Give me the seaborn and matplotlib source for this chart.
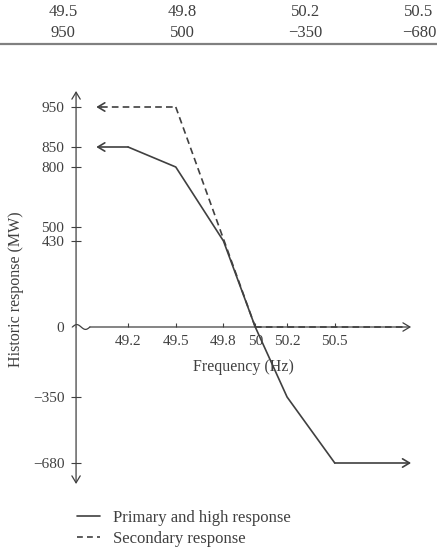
import numpy as np
import pandas as pd
import matplotlib
matplotlib.use('Agg')
import matplotlib.pyplot as plt
from matplotlib.lines import Line2D
import seaborn as sns

# table fragment at the top of the page
table_freq = ['49.5', '49.8', '50.2', '50.5']
table_resp = ['950', '500', '\u2212350', '\u2212680']

# primary and high response
primary_freq = [49.2, 49.5, 49.8, 50.0, 50.2, 50.5]
primary_resp = [850, 800, 430, 0, -350, -680]
# secondary response
secondary_freq = [49.5, 50.0]
secondary_resp = [950, 0]

xticks = [49.2, 49.5, 49.8, 50.0, 50.2, 50.5]
xticklabels = ['49.2', '49.5', '49.8', '50', '50.2', '50.5']
yticks = [950, 850, 800, 500, 430, 0, -350, -680]
yticklabels = ['950', '850', '800', '500', '430', '0', '\u2212350', '\u2212680']

INK = '#404040'

sns.set_style('white')
plt.rcParams['font.family'] = ['Liberation Serif', 'DejaVu Serif']
plt.rcParams['text.color'] = INK
plt.rcParams['axes.labelcolor'] = INK
plt.rcParams['xtick.color'] = INK
plt.rcParams['ytick.color'] = INK


# schematic y axis: values above 800 MW are drawn at twice the scale
def fwd(v):
    return np.interp(v, [-5000, 800, 5000], [-5000, 800, 9200])


def inv(t):
    return np.interp(t, [-5000, 800, 9200], [-5000, 800, 5000])


W, H = 437, 549
fig = plt.figure(figsize=(W / 100, H / 100), dpi=100)
ax = fig.add_axes([60 / W, 1 - 490 / H, 360 / W, 405 / H])
ax.set_yscale('function', functions=(fwd, inv))

df = pd.concat([
    pd.DataFrame({'freq': primary_freq, 'resp': primary_resp,
                  'series': 'Primary and high response'}),
    pd.DataFrame({'freq': secondary_freq, 'resp': secondary_resp,
                  'series': 'Secondary response'}),
])
sns.lineplot(data=df, x='freq', y='resp', style='series', sort=False,
             estimator=None, color=INK, linewidth=1.2,
             dashes={'Primary and high response': '',
                     'Secondary response': (4, 2.5)},
             legend=False, ax=ax)

x0 = 48.873
xl, xr = 49.0, 50.98
ax.set_xlim(48.772, 51.036)
ax.set_ylim(-815, 1005)

# axis lines with arrow heads
ap = dict(arrowstyle='->,head_length=0.5,head_width=0.3', color=INK, lw=0.9,
          shrinkA=0, shrinkB=0)
ax.annotate('', xy=(x0, 990), xytext=(x0, 0), arrowprops=ap)
ax.annotate('', xy=(x0, -785), xytext=(x0, 0), arrowprops=ap)
ax.annotate('', xy=(xr, 0), xytext=(48.96, 0), arrowprops=ap)
# axis break squiggle near the origin
sx = np.linspace(48.85, 48.96, 40)
ax.plot(sx, 12 * np.sin((sx - 48.85) / 0.11 * 2 * np.pi), color=INK, lw=0.9)
ax.plot([48.85, 48.96], [0, 0], color='white', lw=2, zorder=1.5)

# line extensions with arrow heads
lp = dict(arrowstyle='->,head_length=0.5,head_width=0.3', color=INK, lw=1.2,
          shrinkA=0, shrinkB=0)
ax.annotate('', xy=(xl, primary_resp[0]), xytext=(primary_freq[0], primary_resp[0]), arrowprops=lp)
ax.annotate('', xy=(xr, primary_resp[-1]), xytext=(primary_freq[-1], primary_resp[-1]), arrowprops=lp)
ax.plot([xl + 0.03, secondary_freq[0]], [secondary_resp[0]] * 2, color=INK, lw=1.2, dashes=(4, 2.5))
ax.annotate('', xy=(xl, secondary_resp[0]), xytext=(xl + 0.03, secondary_resp[0]), arrowprops=lp)
ax.plot([secondary_freq[-1], xr - 0.03], [secondary_resp[-1]] * 2, color=INK, lw=1.2, dashes=(4, 2.5))

for s in ax.spines.values():
    s.set_visible(False)
ax.spines['left'].set_position(('data', x0))
ax.spines['bottom'].set_position(('data', 0))

ax.set_xticks(xticks)
ax.set_xticklabels(xticklabels)
ax.set_yticks(yticks)
ax.set_yticklabels(yticklabels)
ax.tick_params(axis='x', direction='in', length=3, width=0.8, pad=6, labelsize=11,
               bottom=True)
ax.tick_params(axis='y', direction='inout', length=7, width=0.8, pad=5, labelsize=11,
               left=True)

ax.set_xlabel('')
ax.set_ylabel('')
fig.text(243 / W, 1 - 367 / H, 'Frequency (Hz)', ha='center', va='center', fontsize=11.5)
fig.text(16 / W, 1 - 289 / H, 'Historic response (MW)', ha='center', va='center',
         rotation=90, fontsize=11.5)

# legend below the axes
handles = [Line2D([], [], color=INK, lw=1.2),
           Line2D([], [], color=INK, lw=1.2, dashes=(3.5, 2.5))]
fig.legend(handles, ['Primary and high response', 'Secondary response'],
           loc='upper left', bbox_to_anchor=(77 / W, 1 - 510 / H), frameon=False,
           borderpad=0, borderaxespad=0, fontsize=12, handlelength=1.35,
           handletextpad=0.8, labelspacing=0.3)

# cropped table rows at the top
for i, (f, r) in enumerate(zip(table_freq, table_resp)):
    cx = [63, 182, 305, 419][i] / W
    fig.text(cx, 1 - 12 / H, f, ha='center', va='center', fontsize=12)
    fig.text(cx, 1 - 33 / H, r, ha='center', va='center', fontsize=12)
fig.add_artist(Line2D([0, 1], [1 - 44 / H] * 2, color='#808080', lw=1.6))

fig.savefig('out.png', dpi=100)
